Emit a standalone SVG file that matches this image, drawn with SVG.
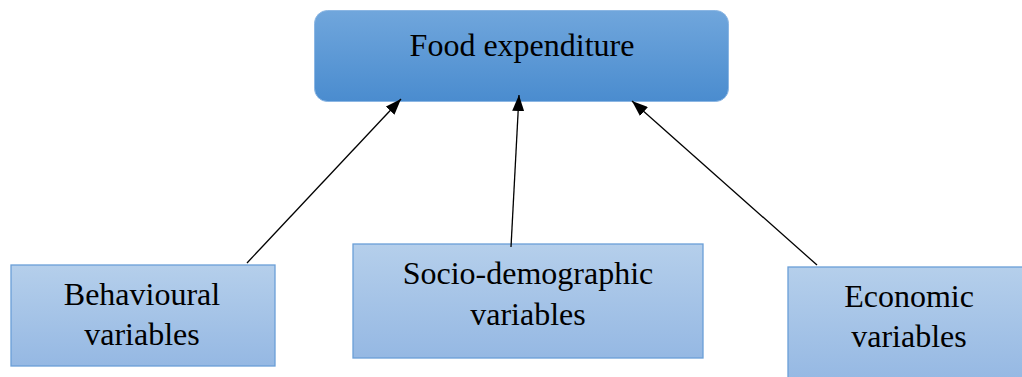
<svg xmlns="http://www.w3.org/2000/svg" width="1022" height="377" viewBox="0 0 1022 377">
<defs>
<linearGradient id="gTop" x1="0" y1="0" x2="0" y2="1">
<stop offset="0" stop-color="#70a6dc"/>
<stop offset="1" stop-color="#4a8ccf"/>
</linearGradient>
<linearGradient id="gBox" x1="0" y1="0" x2="0" y2="1">
<stop offset="0" stop-color="#b5cfeb"/>
<stop offset="1" stop-color="#95b8e3"/>
</linearGradient>
<marker id="arr" viewBox="0 0 16 12" refX="16" refY="6" markerWidth="16" markerHeight="12" markerUnits="userSpaceOnUse" orient="auto">
<path d="M0,0 L16,6 L0,12 z" fill="#000"/>
</marker>
<style>
.t{font-family:"Liberation Serif","Times New Roman",serif;fill:#000;text-anchor:middle;font-size:32px}
.b{fill:url(#gBox);stroke:#6a9fd8;stroke-width:1.3}
.c{stroke:#000;stroke-width:1.3;fill:none}
</style>
</defs>
<rect width="1022" height="377" fill="#fff"/>
<g id="food">
<rect x="314.5" y="10.5" width="414" height="91" rx="13" fill="url(#gTop)" stroke="#8bb6e3" stroke-width="1"/>
<text class="t" x="522" y="56">Food expenditure</text>
</g>
<g id="behavioural">
<rect class="b" x="11" y="265" width="264" height="101"/>
<text class="t" x="142" y="305">Behavioural</text>
<text class="t" x="142" y="345">variables</text>
</g>
<g id="socio">
<rect class="b" x="353" y="244" width="350" height="114"/>
<text class="t" x="528" y="284">Socio-demographic</text>
<text class="t" x="528" y="325">variables</text>
</g>
<g id="economic">
<rect class="b" x="788" y="267" width="240" height="115"/>
<text class="t" x="909" y="307">Economic</text>
<text class="t" x="909" y="347">variables</text>
</g>
<g id="connectors">
<line class="c" x1="247" y1="263" x2="401" y2="99" marker-end="url(#arr)"/>
<line class="c" x1="511" y1="247" x2="519" y2="95" marker-end="url(#arr)"/>
<line class="c" x1="817" y1="265" x2="632" y2="101" marker-end="url(#arr)"/>
</g>
</svg>
